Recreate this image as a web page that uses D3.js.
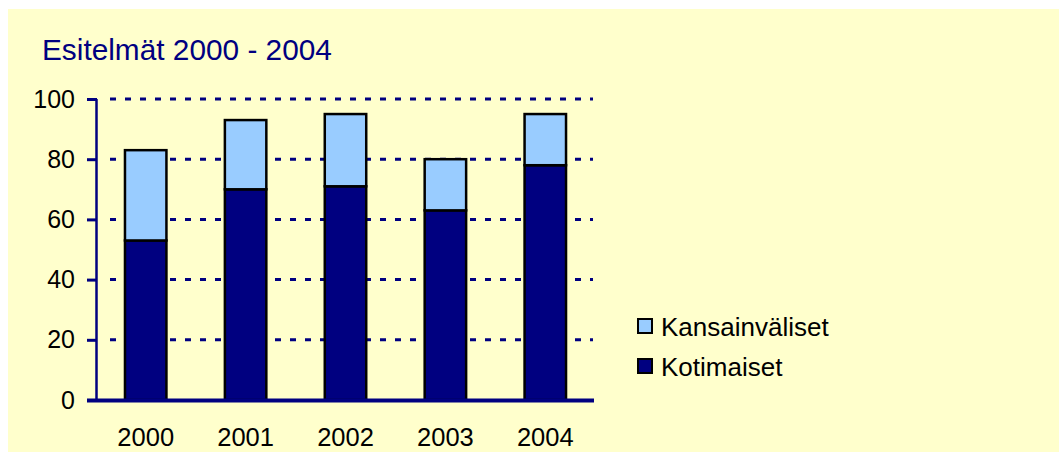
<!DOCTYPE html>
<html lang="fi">

<head>
    <meta charset="utf-8">
    <script src="https://d3js.org/d3.v7.min.js"></script>
    <style>
        body { margin: 0; background: #ffffff; }
        text { font-family: "Liberation Sans", Arial, sans-serif; }
    </style>
</head>

<body>
    <div class="chart"></div>

    <script>
        // Data
        const years = ["2000", "2001", "2002", "2003", "2004"];
        const kotimaiset = [53, 70, 71, 63, 78];
        const kansainvaliset = [30, 23, 24, 17, 17];
        const yTicks = [0, 20, 40, 60, 80, 100];
        const seriesNames = ["Kotimaiset", "Kansainväliset"];
        const seriesColors = ["#000080", "#99ccff"];

        // Set Dimensions
        const width = 1059;
        const height = 452;
        const plotLeft = 97;
        const plotRight = 594;
        const plotTop = 99;
        const plotBottom = 400;

        const svg = d3.select(".chart")
            .append("svg")
            .attr("width", width)
            .attr("height", height);

        // background panel
        svg.append("rect")
            .attr("x", 8).attr("y", 9)
            .attr("width", width - 8).attr("height", height - 9)
            .attr("fill", "#ffffcc");

        // title
        svg.append("text")
            .attr("x", 42).attr("y", 60)
            .attr("fill", "#000080")
            .style("font-size", "29.8px")
            .text("Esitelmät 2000 - 2004");

        // scales
        const x = d3.scaleBand()
            .domain(years)
            .range([plotLeft, plotRight])
            .paddingInner(0.585)
            .paddingOuter(0.28);
        const y = d3.scaleLinear()
            .domain([0, 100])
            .range([plotBottom, plotTop]);

        // dashed gridlines
        svg.append("g")
            .selectAll("line")
            .data(yTicks.filter(d => d > 0))
            .join("line")
            .attr("x1", 110).attr("x2", 593)
            .attr("y1", d => y(d)).attr("y2", d => y(d))
            .attr("stroke", "#000080")
            .attr("stroke-width", 3)
            .attr("stroke-dasharray", "6,9");

        // stacked bars
        const rows = years.map((yr, i) => ({ year: yr, Kotimaiset: kotimaiset[i], "Kansainväliset": kansainvaliset[i] }));
        const stacked = d3.stack().keys(seriesNames)(rows);

        svg.append("g")
            .selectAll("g")
            .data(stacked)
            .join("g")
            .attr("fill", (d, i) => seriesColors[i])
            .selectAll("rect")
            .data(d => d)
            .join("rect")
            .attr("x", d => x(d.data.year))
            .attr("y", d => y(d[1]))
            .attr("width", x.bandwidth())
            .attr("height", d => y(d[0]) - y(d[1]))
            .attr("stroke", "#000000")
            .attr("stroke-width", 2.5);

        // y axis
        const yAxis = svg.append("g")
            .attr("transform", `translate(${plotLeft},0)`)
            .call(d3.axisLeft(y).tickValues(yTicks).tickSize(10).tickPadding(12));
        yAxis.select(".domain").remove();
        yAxis.selectAll(".tick line").attr("stroke", "#000080").attr("stroke-width", 3);
        yAxis.selectAll(".tick text")
            .attr("fill", "#000000")
            .style("font-family", "'Liberation Sans', Arial, sans-serif")
            .style("font-size", "25px");
        svg.append("line")
            .attr("x1", plotLeft - 0.5).attr("x2", plotLeft - 0.5)
            .attr("y1", plotTop).attr("y2", plotBottom)
            .attr("stroke", "#000080").attr("stroke-width", 2.5);

        // x axis
        const xAxis = svg.append("g")
            .attr("transform", `translate(0,${plotBottom})`)
            .call(d3.axisBottom(x).tickSize(0).tickPadding(28));
        xAxis.select(".domain").remove();
        xAxis.selectAll(".tick text")
            .attr("fill", "#000000")
            .style("font-family", "'Liberation Sans', Arial, sans-serif")
            .style("font-size", "25.5px");
        svg.append("line")
            .attr("x1", 87).attr("x2", plotRight)
            .attr("y1", plotBottom + 0.5).attr("y2", plotBottom + 0.5)
            .attr("stroke", "#000080").attr("stroke-width", 4);

        // legend
        const legendItems = [
            { name: seriesNames[1], color: seriesColors[1], y: 326 },
            { name: seriesNames[0], color: seriesColors[0], y: 366 }
        ];
        const legend = svg.append("g")
            .selectAll("g")
            .data(legendItems)
            .join("g")
            .attr("transform", d => `translate(637,${d.y})`);
        legend.append("rect")
            .attr("x", 1).attr("y", -7)
            .attr("width", 14).attr("height", 14)
            .attr("fill", d => d.color)
            .attr("stroke", "#000000")
            .attr("stroke-width", 2);
        legend.append("text")
            .attr("x", 24).attr("y", 9.5)
            .attr("fill", "#000000")
            .style("font-size", "26px")
            .text(d => d.name);
    </script>
</body>

</html>
